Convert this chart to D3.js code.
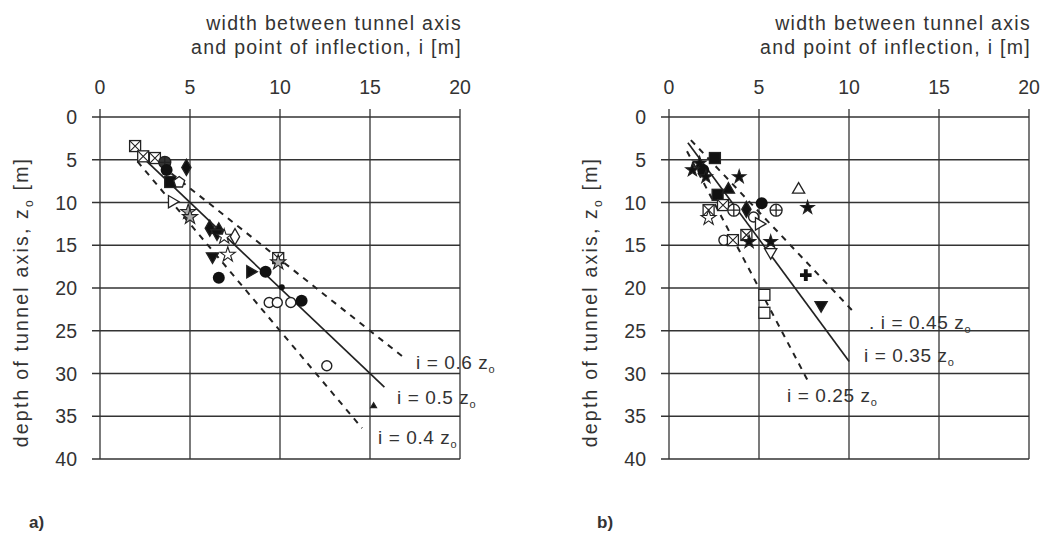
<!DOCTYPE html>
<html>
<head>
<meta charset="utf-8">
<script src="https://cdn.jsdelivr.net/npm/d3@7"></script>
<style>
  body { margin: 0; background: #fff; }
  svg text { font-family: 'Liberation Sans', Arial, sans-serif; fill: #333; }
</style>
</head>
<body>
<div id="grafica"></div>
<script>
// datos
xTicks = [0, 5, 10, 15, 20]
zTicks = [0, 5, 10, 15, 20, 25, 30, 35, 40]

// panel a)
aX = [1.95, 2.4, 3.05, 3.6, 4.8, 3.7, 3.9, 4.4, 4.0, 4.9, 5.0, 6.1, 6.6, 6.5, 6.9, 7.5, 9.9,
      6.25, 7.1, 6.6, 8.35, 9.2, 9.9, 10.1, 9.4, 9.85, 10.6, 11.2, 12.6, 15.2]
aZ = [3.4, 4.6, 4.8, 5.3, 5.9, 6.2, 7.6, 7.6, 9.9, 11.1, 11.7, 13.0, 13.2, 13.6, 14.0, 14.0, 16.5,
      16.3, 16.1, 18.8, 18.1, 18.1, 17.0, 19.9, 21.7, 21.7, 21.7, 21.5, 29.1, 33.8]
aTipo = ['crossSquare', 'crossSquare', 'crossSquare', 'circlePlusFill', 'diamondFill', 'circleFill',
         'squareFill', 'pentagon', 'triRight', 'starHatch', 'starHatch', 'diamondFill', 'triUpFill',
         'triDownFill', 'star', 'diamond', 'crossSquare',
         'triDownFill', 'star', 'circleFill', 'triRightFill', 'circleFill', 'starHatch', 'smallFill',
         'circle', 'circle', 'circle', 'circleFill', 'circle', 'smallTri']
aRectas = [0.6, 0.5, 0.4]
aInicio = [4, 4.5, 5.2]
aFin = [28, 31.6, 36.4]
aEtiquetas = ['i = 0.6 z', 'i = 0.5 z', 'i = 0.4 z']

// panel b)
bX = [2.55, 1.7, 1.9, 1.3, 2.05, 3.9, 2.7, 3.3, 7.2, 5.15, 3.0, 2.2, 2.2, 3.6, 4.3, 4.7, 5.95, 7.7,
      5.0, 3.05, 3.55, 4.3, 4.45, 5.65, 5.65, 7.6, 5.3, 5.3, 8.45]
bZ = [4.8, 5.4, 6.2, 6.2, 7.0, 7.0, 9.1, 8.5, 8.5, 10.1, 10.3, 10.9, 11.8, 10.9, 10.8, 11.7, 10.9, 10.6,
      12.5, 14.4, 14.4, 13.8, 14.6, 14.6, 15.8, 18.5, 20.8, 22.9, 22.0]
bTipo = ['squareFill', 'starFill', 'circleFill', 'starFill', 'starFill', 'starFill', 'squareFill',
         'triUpFill', 'triUp', 'circleFill', 'crossSquare', 'crossSquare', 'star', 'circlePlus',
         'diamondFill', 'circle', 'circlePlus', 'starFill',
         'triRight', 'circle', 'crossSquare', 'crossSquare', 'starFill', 'starFill', 'triDown',
         'plusFill', 'square', 'square', 'triDownFill']
bRectas = [0.45, 0.35, 0.25]
bInicio = [2.7, 3, 4]
bFin = [23, 28.6, 30.8]
bEtiquetas = ['. i = 0.45 z', 'i = 0.35 z', 'i = 0.25 z']

svg = d3
        .select('#grafica')
        .append('svg')
        .attr('width', 1045)
        .attr('height', 536)

// dibuja un marcador en (0,0) dentro de g
function marcador(g, tipo) {
  sym = (t, s) => d3.symbol().type(t).size(s)()
  if (tipo == 'circle') {
    g.append('circle').attr('r', 5).attr('fill', '#fff').attr('stroke', '#222').attr('stroke-width', 1.4)
  } else if (tipo == 'circleFill') {
    g.append('circle').attr('r', 6).attr('fill', '#111')
  } else if (tipo == 'smallFill') {
    g.append('circle').attr('r', 3).attr('fill', '#111')
  } else if (tipo == 'circlePlus' || tipo == 'circlePlusFill') {
    g.append('circle').attr('r', 6).attr('fill', tipo == 'circlePlus' ? '#fff' : '#333')
      .attr('stroke', '#222').attr('stroke-width', 1.3)
    g.append('path').attr('d', 'M-6,0H6M0,-6V6').attr('stroke', '#222').attr('stroke-width', 1.3)
  } else if (tipo == 'square' || tipo == 'squareFill') {
    g.append('rect').attr('x', -5.5).attr('y', -5.5).attr('width', 11).attr('height', 11)
      .attr('fill', tipo == 'square' ? '#fff' : '#111').attr('stroke', '#222').attr('stroke-width', 1.3)
  } else if (tipo == 'crossSquare') {
    g.append('rect').attr('x', -5.5).attr('y', -5.5).attr('width', 11).attr('height', 11)
      .attr('fill', '#fff').attr('stroke', '#222').attr('stroke-width', 1.3)
    g.append('path').attr('d', 'M-5.5,-5.5L5.5,5.5M5.5,-5.5L-5.5,5.5').attr('stroke', '#222').attr('stroke-width', 1.1)
  } else if (tipo == 'diamond' || tipo == 'diamondFill') {
    g.append('path').attr('d', sym(d3.symbolDiamond, 75))
      .attr('fill', tipo == 'diamond' ? '#fff' : '#111').attr('stroke', '#222').attr('stroke-width', 1.3)
  } else if (tipo == 'pentagon') {
    g.append('path').attr('d', 'M0,-5.5L5.5,-1.5L3.3,5H-3.3L-5.5,-1.5Z')
      .attr('fill', '#fff').attr('stroke', '#222').attr('stroke-width', 1.3)
  } else if (tipo.startsWith('tri') || tipo == 'smallTri') {
    rot = { triUp: 0, triUpFill: 0, triDown: 180, triDownFill: 180, triRight: 90, triRightFill: 90, smallTri: 0 }[tipo]
    relleno = tipo.endsWith('Fill') || tipo == 'smallTri'
    g.append('path').attr('d', sym(d3.symbolTriangle, tipo == 'smallTri' ? 14 : 65))
      .attr('transform', 'rotate(' + rot + ')')
      .attr('fill', relleno ? '#111' : '#fff').attr('stroke', '#222').attr('stroke-width', 1.3)
  } else if (tipo == 'star' || tipo == 'starFill' || tipo == 'starHatch') {
    g.append('path').attr('d', sym(d3.symbolStar, tipo == 'starFill' ? 55 : 70))
      .attr('fill', tipo == 'starFill' ? '#111' : (tipo == 'starHatch' ? '#aaa' : '#fff'))
      .attr('stroke', '#222').attr('stroke-width', 1.1)
  } else if (tipo == 'plusFill') {
    g.append('path').attr('d', sym(d3.symbolCross, 75)).attr('fill', '#111')
  }
}

function panel(cfg) {
  x = d3.scaleLinear().domain([0, 20]).range([cfg.left, cfg.right])
  z = d3.scaleLinear().domain([0, 40]).range([117, 459])

  g = svg.append('g')

  // rejilla con marcas
  g.selectAll('.v').data(xTicks).enter().append('line')
    .attr('x1', (d) => x(d)).attr('x2', (d) => x(d))
    .attr('y1', z(0) - 8).attr('y2', z(40))
    .attr('stroke', '#333').attr('stroke-width', 1.3)
  g.selectAll('.h').data(zTicks).enter().append('line')
    .attr('x1', x(0) - 8).attr('x2', x(20))
    .attr('y1', (d) => z(d)).attr('y2', (d) => z(d))
    .attr('stroke', '#333').attr('stroke-width', 1.3)

  // ejes: etiquetas de las marcas
  g.selectAll('.xt').data(xTicks).enter().append('text')
    .attr('x', (d) => x(d)).attr('y', 94)
    .attr('text-anchor', 'middle').attr('font-size', '19.5px')
    .text((d) => d)
  g.selectAll('.zt').data(zTicks).enter().append('text')
    .attr('x', x(0) - 23).attr('y', (d) => z(d) + 7)
    .attr('text-anchor', 'end').attr('font-size', '19.5px')
    .text((d) => d)

  // titulo eje x
  tt = g.append('text').attr('text-anchor', 'end').attr('font-size', '19.5px')
        .attr('letter-spacing', '1.3px')
  tt.append('tspan').attr('x', x(20) + 2).attr('y', 30).text('width between tunnel axis')
  tt.append('tspan').attr('x', x(20) + 2).attr('y', 54).text('and point of inflection, i [m]')

  // titulo eje z
  ty = g.append('text')
    .attr('transform', 'translate(' + (x(0) - 72) + ',' + 302 + ') rotate(-90)')
    .attr('text-anchor', 'middle').attr('font-size', '19.5px')
    .attr('letter-spacing', '2.2px')
  ty.append('tspan').text('depth of tunnel axis, z')
  ty.append('tspan').attr('font-size', '12px').attr('dy', 5).text('o')
  ty.append('tspan').attr('dy', -5).text(' [m]')

  // rectas i = k z0
  cfg.rectas.forEach((k, j) => {
    g.append('line')
      .attr('x1', x(k * cfg.inicio[j])).attr('y1', z(cfg.inicio[j]))
      .attr('x2', x(k * cfg.fin[j])).attr('y2', z(cfg.fin[j]))
      .attr('stroke', '#222').attr('stroke-width', j == 1 ? 1.7 : 2)
      .attr('stroke-dasharray', j == 1 ? null : '6,6')
    lab = g.append('text')
      .attr('x', cfg.etqX[j]).attr('y', cfg.etqY[j])
      .attr('font-size', '19px').attr('letter-spacing', '0.6px')
    lab.append('tspan').text(cfg.etiquetas[j])
    lab.append('tspan').attr('font-size', '11px').attr('dy', 4).text('o')
  })

  // puntos
  cfg.xs.forEach((v, j) => {
    m = g.append('g').attr('transform', 'translate(' + x(v) + ',' + z(cfg.zs[j]) + ')')
    marcador(m, cfg.tipos[j])
  })

  g.append('text')
    .attr('x', cfg.letraX).attr('y', 528)
    .attr('font-size', '17px').attr('font-weight', 'bold')
    .attr('fill', '#111')
    .text(cfg.letra)
}

panel({ left: 100, right: 460, xs: aX, zs: aZ, tipos: aTipo, rectas: aRectas, inicio: aInicio, fin: aFin,
        etiquetas: aEtiquetas, etqX: [416, 397, 378], etqY: [369, 404, 444], letra: 'a)', letraX: 29 })
panel({ left: 669, right: 1029, xs: bX, zs: bZ, tipos: bTipo, rectas: bRectas, inicio: bInicio, fin: bFin,
        etiquetas: bEtiquetas, etqX: [869, 864, 787], etqY: [329, 362, 402], letra: 'b)', letraX: 597 })
</script>
</body>
</html>
